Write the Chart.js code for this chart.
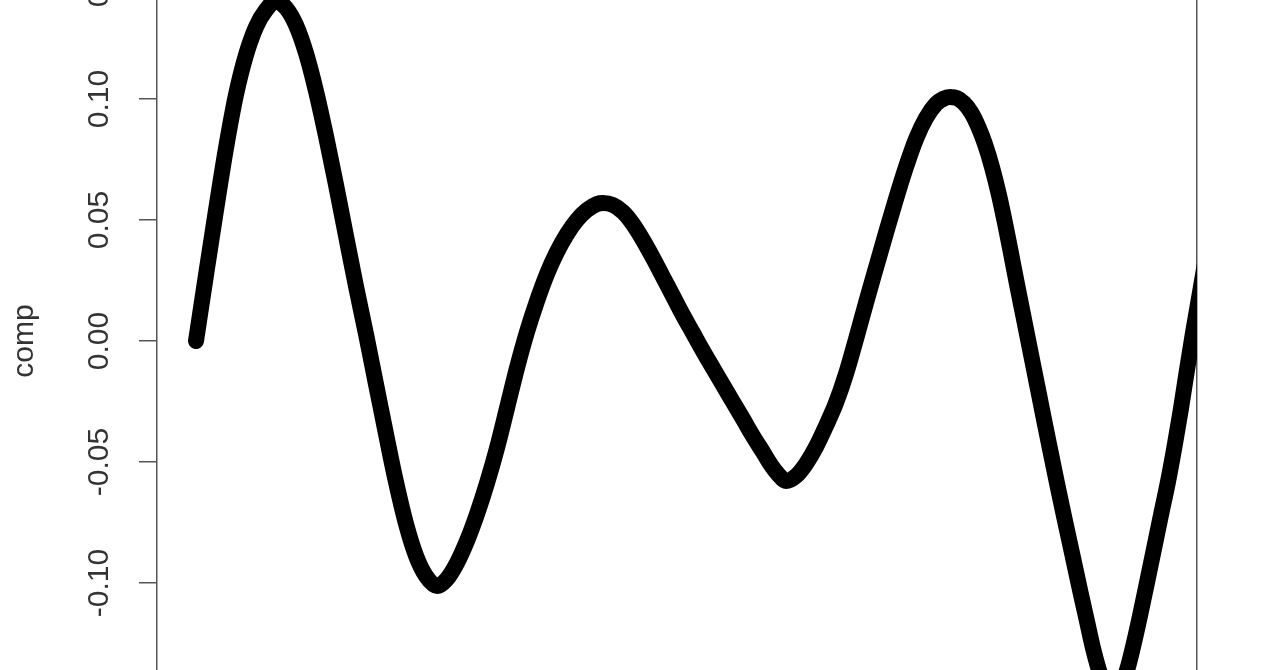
<!DOCTYPE html>
<html>
<head>
<meta charset="utf-8">
<script src="https://cdn.jsdelivr.net/npm/chart.js@4"></script>
<style>
  html, body { margin: 0; padding: 0; background: #ffffff; overflow: hidden; width: 1280px; height: 670px; }
  #wrap { position: absolute; left: 0; top: -22px; width: 1280px; height: 726px; }
</style>
</head>
<body>
<div id="wrap"><canvas id="c"></canvas></div>
<script>
// x positions (time) and component values
const tValues = [
  0.0000, 0.0104, 0.0208, 0.0312, 0.0415, 0.0519, 0.0623, 0.0727, 0.0831,
  0.0935, 0.1038, 0.1142, 0.1246, 0.1350, 0.1454, 0.1558, 0.1661, 0.1765, 0.1869,
  0.1973, 0.2077, 0.2181, 0.2285, 0.2388, 0.2503,
  0.2606, 0.2710, 0.2814, 0.2918, 0.3022, 0.3126, 0.3230, 0.3333, 0.3437, 0.3541,
  0.3645, 0.3749, 0.3853, 0.3956, 0.4060, 0.4164, 0.4226,
  0.4330, 0.4434, 0.4538, 0.4642, 0.4746, 0.4850, 0.4953, 0.5057, 0.5161, 0.5265,
  0.5369, 0.5472, 0.5576, 0.5680, 0.5784, 0.5888, 0.5971, 0.6044, 0.6127,
  0.6231, 0.6334, 0.6438, 0.6542, 0.6646, 0.6750, 0.6854, 0.6957, 0.7061, 0.7165,
  0.7269, 0.7373, 0.7477, 0.7580, 0.7684, 0.7757, 0.7830,
  0.7903, 0.7975, 0.8048, 0.8121, 0.8193, 0.8266, 0.8339, 0.8401, 0.8463, 0.8525,
  0.8598, 0.8660, 0.8733, 0.8795, 0.8868, 0.8941, 0.9013, 0.9097, 0.9180, 0.9252,
  0.9315, 0.9367, 0.9419, 0.9471, 0.9522, 0.9574, 0.9626, 0.9678, 0.9740, 0.9803,
  0.9875, 0.9948, 1.0021, 1.0093, 1.0166, 1.0228, 1.0291, 1.0353, 1.0499
];
const compValues = [
  0.0000, 0.0273, 0.0541, 0.0798, 0.1017, 0.1182, 0.1298, 0.1368, 0.1405,
  0.1376, 0.1306, 0.1190, 0.1033, 0.0847, 0.0645, 0.0434, 0.0227, 0.0029, -0.0178,
  -0.0384, -0.0583, -0.0756, -0.0888, -0.0971, -0.1012,
  -0.0983, -0.0917, -0.0826, -0.0715, -0.0587, -0.0442, -0.0277, -0.0112, 0.0037, 0.0165,
  0.0277, 0.0368, 0.0442, 0.0500, 0.0541, 0.0566, 0.0570,
  0.0562, 0.0533, 0.0483, 0.0417, 0.0343, 0.0264, 0.0186, 0.0107, 0.0033, -0.0041,
  -0.0112, -0.0182, -0.0252, -0.0322, -0.0393, -0.0459, -0.0512, -0.0550, -0.0579,
  -0.0558, -0.0508, -0.0438, -0.0351, -0.0256, -0.0136, 0.0008, 0.0157, 0.0302, 0.0446,
  0.0587, 0.0719, 0.0835, 0.0921, 0.0979, 0.1000, 0.1008,
  0.1004, 0.0983, 0.0946, 0.0888, 0.0814, 0.0719, 0.0603, 0.0488, 0.0364, 0.0236,
  0.0091, -0.0033, -0.0178, -0.0302, -0.0446, -0.0587, -0.0723, -0.0876, -0.1029, -0.1157,
  -0.1269, -0.1347, -0.1409, -0.1450, -0.1467, -0.1450, -0.1409, -0.1347, -0.1248, -0.1136,
  -0.1000, -0.0860, -0.0719, -0.0583, -0.0426, -0.0281, -0.0120, 0.0033, 0.0368
];
const yTickStep = 0.05;
const yMin = -0.15, yMax = 0.15;
const xMin = -0.0405, xMax = 1.0395;
const yTitle = 'comp';

const points = tValues.map((t, i) => ({ x: t, y: compValues[i] }));
const fontFamily = "'Liberation Sans', Arial, sans-serif";

new Chart(document.getElementById('c'), {
  type: 'line',
  data: {
    datasets: [{
      data: points,
      borderColor: '#000000',
      borderWidth: 16,
      pointRadius: 0,
      borderCapStyle: 'round',
      borderJoinStyle: 'round',
      cubicInterpolationMode: 'monotone',
      fill: false,
      clip: 0
    }]
  },
  options: {
    responsive: true,
    maintainAspectRatio: false,
    animation: false,
    events: [],
    layout: { padding: 0 },
    plugins: { legend: { display: false }, tooltip: { enabled: false } },
    scales: {
      x: { type: 'linear', min: xMin, max: xMax, display: false },
      y: {
        type: 'linear', position: 'left', min: yMin, max: yMax,
        ticks: {
          stepSize: yTickStep, autoSkip: false,
          minRotation: 90, maxRotation: 90, crossAlign: 'center', padding: 5,
          color: '#333333',
          font: { family: fontFamily, size: 30 },
          callback: v => (Math.abs(v) < 1e-9 ? 0 : v).toFixed(2)
        },
        grid: { drawOnChartArea: false, drawTicks: true, tickLength: 18, color: '#555555', lineWidth: 1.5 },
        border: { display: true, color: '#555555', width: 1.5 },
        title: { display: true, text: yTitle, color: '#333333', font: { family: fontFamily, size: 30 }, padding: { top: 7, bottom: 0 } },
        afterFit: s => { s.width = 157; s.paddingTop = 0; s.paddingBottom = 0; }
      },
      y2: {
        type: 'linear', position: 'right', min: yMin, max: yMax,
        ticks: { display: false },
        grid: { display: false, drawTicks: false },
        border: { display: true, color: '#555555', width: 1.5 },
        afterFit: s => { s.width = 83; s.paddingTop = 0; s.paddingBottom = 0; }
      }
    }
  }
});
</script>
</body>
</html>
